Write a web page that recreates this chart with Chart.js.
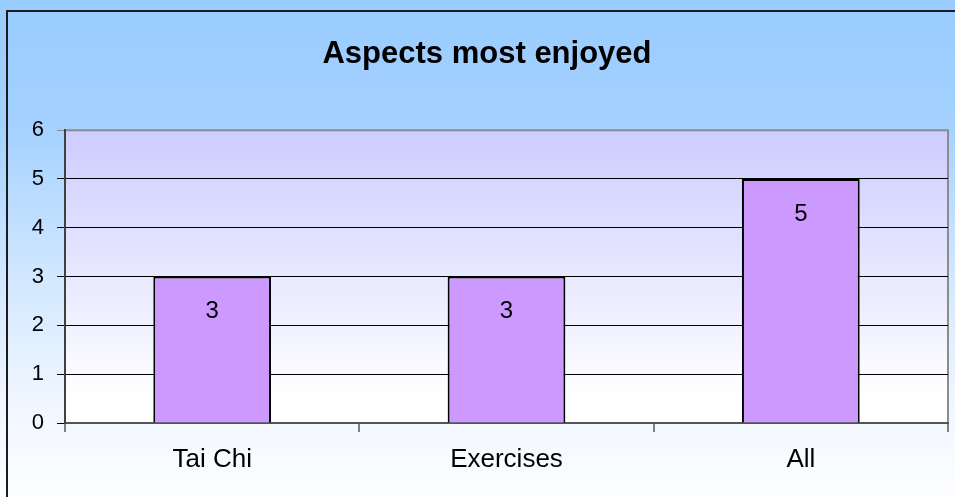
<!DOCTYPE html>
<html>
<head>
<meta charset="utf-8">
<script src="https://cdn.jsdelivr.net/npm/chart.js@4/dist/chart.umd.min.js"></script>
<style>
  html, body { margin: 0; padding: 0; background: #fff; }
  #wrap { width: 955px; height: 497px; position: relative; }
</style>
</head>
<body>
<div id="wrap"><canvas id="chartAspects"></canvas></div>
<script>
// Aspects most enjoyed
const categories = ['Tai Chi', 'Exercises', 'All'];
const counts = [3, 3, 5];
const yTicks = [0, 1, 2, 3, 4, 5, 6];

const FONT = 'Arial, "Liberation Sans", sans-serif';

// background of the whole card, plot area fill, outer frame
const backdrop = {
    id: 'backdrop',
    beforeDraw(chart) {
        const { ctx, width, height, chartArea: a } = chart;
        ctx.save();
        const bg = ctx.createLinearGradient(0, 0, 0, height);
        bg.addColorStop(0, '#99ccff');
        bg.addColorStop(0.25, '#a4d1ff');
        bg.addColorStop(0.55, '#d0e7ff');
        bg.addColorStop(0.8, '#eff6ff');
        bg.addColorStop(1, '#fdfeff');
        ctx.fillStyle = bg;
        ctx.fillRect(0, 0, width, height);

        const pa = ctx.createLinearGradient(0, a.top, 0, a.bottom);
        pa.addColorStop(0, '#ccccff');
        pa.addColorStop(0.9, '#ffffff');
        pa.addColorStop(1, '#ffffff');
        ctx.fillStyle = pa;
        ctx.fillRect(a.left, a.top, a.right - a.left, a.bottom - a.top);

        // top / right edge of the plot area
        ctx.strokeStyle = '#8c8c8c';
        ctx.lineWidth = 2;
        ctx.beginPath();
        ctx.moveTo(a.left, a.top);
        ctx.lineTo(a.right, a.top);
        ctx.lineTo(a.right, a.bottom);
        ctx.stroke();

        // card frame
        ctx.strokeStyle = '#1c1c1c';
        ctx.lineWidth = 2;
        ctx.strokeRect(7, 11, width + 10, height + 10);
        ctx.restore();
    }
};

// value printed inside each bar, just below its top
const barValues = {
    id: 'barValues',
    afterDatasetsDraw(chart) {
        const { ctx } = chart;
        const meta = chart.getDatasetMeta(0);
        ctx.save();
        ctx.font = '24px ' + FONT;
        ctx.fillStyle = '#000';
        ctx.textAlign = 'center';
        ctx.textBaseline = 'middle';
        meta.data.forEach((bar, i) => {
            ctx.fillText(String(counts[i]), bar.x, bar.y + 35);
        });
        ctx.restore();
    }
};

new Chart(document.getElementById('chartAspects'), {
    type: 'bar',
    data: {
        labels: categories,
        datasets: [{
            data: counts,
            backgroundColor: '#cc99ff',
            borderColor: '#000',
            borderWidth: 2,
            barPercentage: 0.4,
            categoryPercentage: 1
        }]
    },
    options: {
        responsive: true,
        maintainAspectRatio: false,
        animation: false,
        layout: { padding: { top: 0, right: 7, left: 26, bottom: 0 } },
        plugins: {
            legend: { display: false },
            tooltip: { enabled: false },
            title: {
                display: true,
                text: 'Aspects most enjoyed',
                color: '#000',
                font: { family: FONT, size: 31, weight: 'bold' },
                padding: { top: 36, bottom: 57 }
            }
        },
        scales: {
            x: {
                offset: true,
                grid: {
                    offset: true,
                    drawOnChartArea: false,
                    color: '#808080',
                    lineWidth: 2,
                    tickLength: 9
                },
                border: { color: '#555', width: 2 },
                ticks: { color: '#000', padding: 12, font: { family: FONT, size: 26 } },
                afterFit: s => { s.height = 74; }
            },
            y: {
                min: 0,
                max: 6,
                afterBuildTicks: s => { s.ticks = yTicks.map(v => ({ value: v })); },
                grid: {
                    color: c => c.tick && c.tick.value === 6 ? '#8c8c8c' : '#000',
                    lineWidth: 1,
                    tickLength: 8
                },
                border: { color: '#404040', width: 2 },
                ticks: { color: '#000', padding: 13, font: { family: FONT, size: 22 } },
                afterFit: s => { s.width = 39; }
            }
        }
    },
    plugins: [backdrop, barValues]
});
</script>
</body>
</html>
